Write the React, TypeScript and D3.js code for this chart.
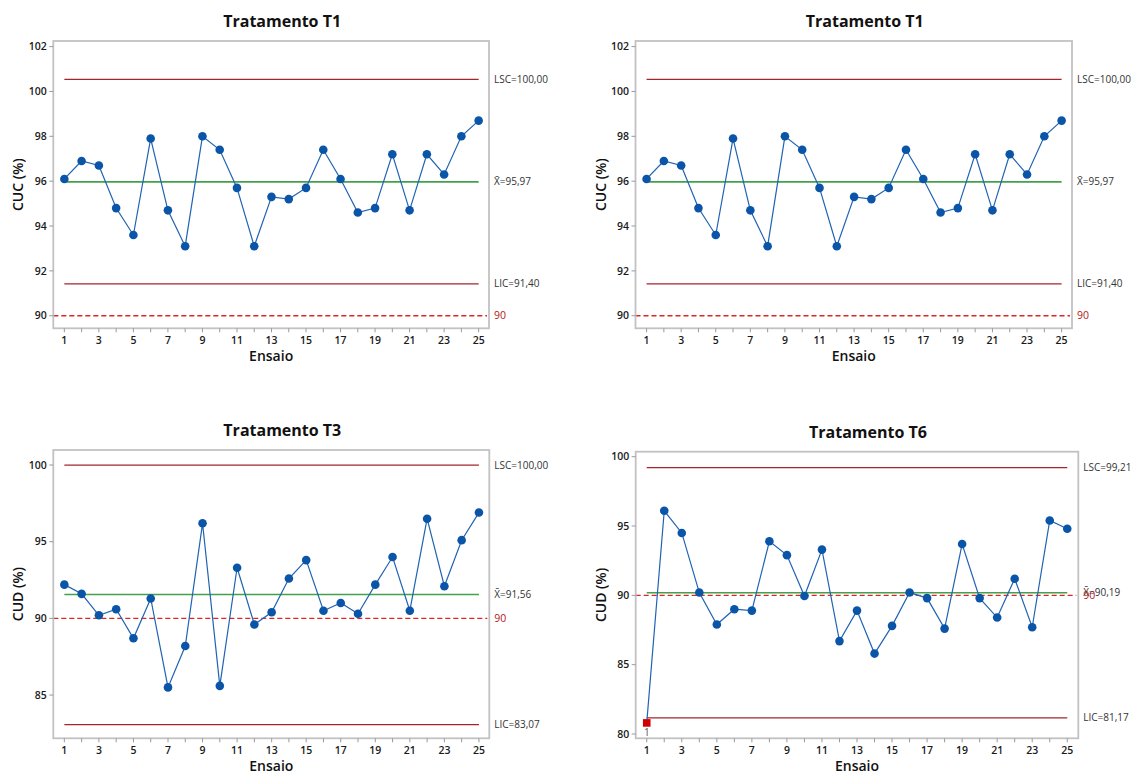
import React from "react";
import * as d3 from "d3";

const ensaios = [1,2,3,4,5,6,7,8,9,10,11,12,13,14,15,16,17,18,19,20,21,22,23,24,25];
const xTickValues = [1,3,5,7,9,11,13,15,17,19,21,23,25];

const t1Values = [96.1,96.9,96.7,94.8,93.6,97.9,94.7,93.1,98.0,97.4,95.7,93.1,95.3,95.2,95.7,97.4,96.1,94.6,94.8,97.2,94.7,97.2,96.3,98.0,98.7];
const t3Values = [92.2,91.6,90.2,90.6,88.7,91.3,85.5,88.2,96.2,85.6,93.3,89.6,90.4,92.6,93.8,90.5,91.0,90.3,92.2,94.0,90.5,96.5,92.1,95.1,96.9];
const t6Values = [80.8,96.1,94.5,90.2,87.9,89.0,88.9,93.9,92.9,89.95,93.3,86.7,88.9,85.8,87.8,90.2,89.8,87.6,93.7,89.8,88.4,91.2,87.7,95.4,94.8];

const cucTicks = [90,92,94,96,98,100,102];
const cudTicksT3 = [85,90,95,100];
const cudTicksT6 = [80,85,90,95,100];

const titles = ["Tratamento T1","Tratamento T1","Tratamento T3","Tratamento T6"];
const yLabels = ["CUC (%)","CUC (%)","CUD (%)","CUD (%)"];
const lscValues = [100.54,100.54,100.0,99.21];
const lscLabels = ["LSC=100,00","LSC=100,00","LSC=100,00","LSC=99,21"];
const meanValues = [95.97,95.97,91.56,90.19];
const meanLabels = ["95,97","95,97","91,56","90,19"];
const licValues = [91.42,91.42,83.07,81.17];
const licLabels = ["LIC=91,40","LIC=91,40","LIC=83,07","LIC=81,17"];
const specValue = 90;
const outOfControl = [[],[],[],[0]];

const panelValues = [t1Values,t1Values,t3Values,t6Values];
const panelTicks = [cucTicks,cucTicks,cudTicksT3,cudTicksT6];
const yDomains: [number,number][] = [[89.44,102.25],[89.44,102.25],[82.18,100.98],[79.69,100.36]];
const xDomains: [number,number][] = [[0.36,25.6],[0.36,25.6],[0.36,25.6],[0.37,25.63]];
const boxes = [
  {l:53.3,r:489,t:41,b:328.3},
  {l:635.5,r:1072,t:41,b:328.3},
  {l:53.3,r:489.3,t:450,b:738.3},
  {l:635.7,r:1078.3,t:451.7,b:738.3},
];

const FONT = "'Open Sans', 'Noto Sans', sans-serif";
const BLUE = "#0a55a8";
const LINEBLUE = "#2063b3";
const DARKRED = "#a3262b";
const GREEN = "#44a04c";
const SPECRED = "#e02424";

function Panel({i}:{i:number}) {
  const box = boxes[i];
  const vals = panelValues[i];
  const x = d3.scaleLinear().domain(xDomains[i]).range([box.l, box.r]);
  const y = d3.scaleLinear().domain(yDomains[i]).range([box.b, box.t]);
  const line = d3.line<number>().x((_, k) => x(ensaios[k])).y(d => y(d));
  const lx0 = x(ensaios[0]);
  const lx1 = x(ensaios[ensaios.length-1]);
  const labX = box.r + 5;
  const cx = (box.l + box.r) / 2;
  const ooc = outOfControl[i] as number[];
  return (
    <g>
      <text x={cx + 11} y={box.t - 14} textAnchor="middle" fontFamily={FONT} fontWeight={700} fontSize={16} fill="#111">{titles[i]}</text>
      <line x1={lx0} x2={lx1} y1={y(lscValues[i])} y2={y(lscValues[i])} stroke={DARKRED} strokeWidth={1.3} />
      <line x1={lx0} x2={lx1} y1={y(licValues[i])} y2={y(licValues[i])} stroke={DARKRED} strokeWidth={1.3} />
      <line x1={lx0} x2={lx1} y1={y(meanValues[i])} y2={y(meanValues[i])} stroke={GREEN} strokeWidth={1.6} />
      <line x1={box.l} x2={box.r - 2} y1={y(specValue)} y2={y(specValue)} stroke={SPECRED} strokeWidth={1.3} strokeDasharray="5,3" />
      <path d={line(vals) || ""} fill="none" stroke={LINEBLUE} strokeWidth={1.2} />
      {vals.map((v, k) => ooc.includes(k) ? (
        <g key={k}>
          <rect x={x(ensaios[k]) - 3.8} y={y(v) - 3.8} width={7.6} height={7.6} fill="#d00000" />
          <text x={x(ensaios[k])} y={y(v) + 13} textAnchor="middle" fontFamily={FONT} fontSize={10} fill="#555">{ensaios[k]}</text>
        </g>
      ) : (
        <circle key={k} cx={x(ensaios[k])} cy={y(v)} r={4.3} fill={BLUE} />
      ))}
      <rect x={box.l} y={box.t} width={box.r - box.l} height={box.b - box.t} fill="none" stroke="#c2c2c2" strokeWidth={1.8} />
      {panelTicks[i].map(t => (
        <g key={t}>
          <line x1={box.l - 4} x2={box.l} y1={y(t)} y2={y(t)} stroke="#9a9a9a" strokeWidth={1} />
          <text x={box.l - 6.5} y={y(t)} dy="0.35em" textAnchor="end" fontFamily={FONT} fontWeight={600} fontSize={10.5} fill="#1a1a1a">{t}</text>
        </g>
      ))}
      {ensaios.map(e => (
        <line key={e} x1={x(e)} x2={x(e)} y1={box.b} y2={box.b + 4} stroke="#9a9a9a" strokeWidth={1} />
      ))}
      {xTickValues.map(t => (
        <text key={t} x={x(t)} y={box.b + 15.5} textAnchor="middle" fontFamily={FONT} fontWeight={600} fontSize={10.5} fill="#1a1a1a">{t}</text>
      ))}
      <text x={cx} y={box.b + 32.5} textAnchor="middle" fontFamily={FONT} fontWeight={600} fontSize={14} fill="#111">Ensaio</text>
      <text transform={`translate(${box.l - 30},${(box.t + box.b) / 2}) rotate(-90)`} textAnchor="middle" fontFamily={FONT} fontWeight={600} fontSize={14} fill="#111">{yLabels[i]}</text>
      <text x={labX} y={y(lscValues[i])} dy="0.35em" fontFamily={FONT} fontSize={10} fill="#333">{lscLabels[i]}</text>
      <text x={labX} y={y(licValues[i])} dy="0.35em" fontFamily={FONT} fontSize={10} fill="#333">{licLabels[i]}</text>
      <text x={labX} y={y(meanValues[i])} dy="0.35em" fontFamily={FONT} fontSize={10} fill="#333">{"X\u0304=" + meanLabels[i]}</text>
      <text x={labX} y={y(specValue)} dy="0.35em" fontFamily={FONT} fontSize={10.5} fill="#b01818">{specValue}</text>
    </g>
  );
}

export default function App() {
  return (
    <svg width={1137} height={776} style={{position:"absolute", left:0, top:0, display:"block", background:"#fff"}}>
      <rect x={0} y={0} width={1137} height={776} fill="#fff" />
      {[0,1,2,3].map(i => <Panel key={i} i={i} />)}
    </svg>
  );
}
